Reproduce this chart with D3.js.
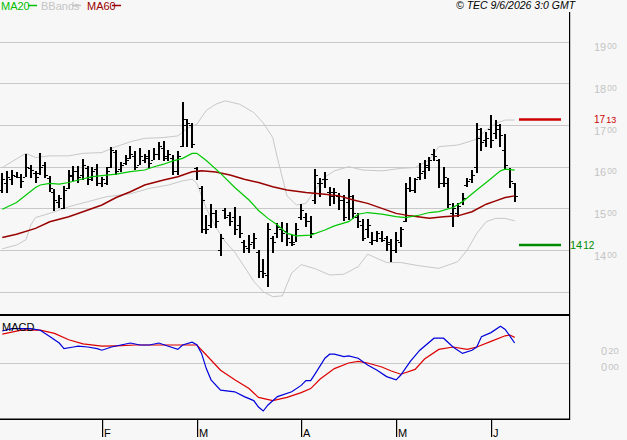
<!DOCTYPE html>
<html>
<head>
<meta charset="utf-8">
<script src="https://cdn.jsdelivr.net/npm/d3@7"></script>
<style>
  body { margin: 0; background: #f7f7f7; }
  svg { display: block; font-family: "Liberation Sans", Arial, sans-serif; }
</style>
</head>
<body>
<div id="chart"></div>
<script>
// OHLC, one entry per trading day (index 0 = first bar)
const opens  = [1545,1562,1570,1578,1575,1575,1598,1585,1585,1605,1572,1540,1515,1502,1550,1578,1590,1580,1598,1575,
                1595,1560,1562,1600,1635,1595,1610,1620,1625,1605,1615,1625,1615,1630,1645,1625,1620,1590,1650,1700,
                1700,1598,1550,1450,1460,1488,1400,1495,1485,1480,1460,1420,1405,1420,1395,1350,1340,1430,1440,1450,
                1445,1420,1420,1480,1480,1470,1520,1560,1570,1540,1530,1530,1520,1515,1500,1480,1460,1450,1420,1425,
                1430,1430,1415,1400,1420,1470,1550,1545,1575,1590,1600,1630,1615,1560,1560,1490,1490,1515,1555,1570,
                1600,1670,1665,1690,1680,1690,1640,1595,1560];
const highs  = [1584,1590,1593,1588,1582,1630,1604,1590,1632,1612,1578,1546,1532,1554,1591,1602,1601,1618,1602,1600,
                1606,1576,1600,1647,1640,1612,1628,1650,1638,1646,1630,1640,1644,1660,1662,1640,1628,1638,1756,1714,
                1704,1600,1554,1484,1510,1496,1438,1502,1492,1504,1482,1424,1436,1442,1400,1378,1464,1434,1464,1468,
                1464,1436,1464,1510,1488,1482,1594,1572,1588,1552,1548,1538,1532,1570,1532,1490,1474,1474,1444,1446,
                1446,1434,1426,1444,1456,1560,1576,1572,1608,1616,1624,1642,1618,1600,1572,1514,1514,1538,1572,1592,
                1706,1692,1684,1724,1712,1702,1678,1596,1562];
const lows   = [1536,1538,1556,1572,1550,1575,1574,1562,1580,1574,1540,1494,1500,1498,1546,1566,1560,1568,1556,1566,
                1554,1551,1556,1598,1580,1588,1604,1618,1592,1604,1608,1598,1616,1616,1614,1614,1580,1580,1648,1648,
                1646,1568,1442,1438,1454,1452,1386,1474,1458,1436,1430,1394,1394,1402,1334,1334,1312,1394,1428,1420,
                1410,1410,1420,1472,1456,1428,1510,1528,1548,1506,1510,1496,1470,1472,1474,1452,1422,1430,1412,1420,
                1420,1398,1372,1394,1408,1468,1540,1536,1568,1570,1590,1614,1548,1552,1502,1456,1480,1508,1552,1562,
                1586,1638,1648,1646,1666,1648,1594,1550,1516];
const closes = [1570,1575,1580,1576,1565,1600,1592,1575,1600,1580,1548,1520,1525,1545,1580,1590,1575,1605,1570,1590,
                1560,1570,1590,1640,1590,1605,1615,1630,1600,1625,1620,1610,1630,1650,1620,1630,1590,1625,1715,1705,
                1655,1590,1520,1450,1490,1470,1430,1480,1470,1450,1440,1410,1415,1430,1350,1345,1450,1420,1455,1440,
                1430,1415,1450,1495,1470,1440,1580,1560,1570,1540,1540,1520,1480,1530,1490,1470,1430,1460,1425,1440,
                1425,1420,1400,1425,1450,1550,1545,1570,1585,1605,1615,1625,1560,1575,1510,1500,1505,1525,1565,1580,
                1690,1660,1670,1665,1700,1675,1605,1565,1530];

// indicator lines: [bar index, value]
const ma20 = [[0,1498],[3,1514],[5,1532],[7,1550],[8,1556],[10,1560],[12,1558],[14,1562],[16,1568],[19,1576],
              [22,1580],[24,1582],[27,1588],[30,1592],[32,1600],[34,1606],[36,1614],[38,1620],[40,1632],[41,1632],
              [43,1615],[46,1584],[49,1550],[52,1520],[54,1495],[56,1476],[58,1460],[60,1440],[62,1434],[65,1436],
              [68,1448],[70,1458],[73,1468],[75,1486],[77,1490],[80,1486],[83,1480],[85,1478],[88,1484],[90,1490],
              [92,1492],[95,1502],[97,1516],[100,1544],[102,1562],[105,1590],[106,1594],[108,1592]];
const ma60 = [[0,1430],[3,1438],[7,1452],[10,1468],[14,1480],[17,1492],[21,1508],[24,1526],[27,1540],[30,1556],
              [34,1568],[37,1576],[40,1588],[42,1590],[45,1587],[48,1580],[51,1570],[54,1562],[57,1552],[60,1544],
              [64,1538],[68,1534],[71,1530],[74,1520],[77,1512],[80,1500],[83,1488],[86,1482],[90,1476],[93,1480],
              [96,1482],[99,1492],[102,1510],[104,1518],[106,1526],[108,1530]];
const bbUpper = [[0,1598],[2,1612],[5,1632],[7,1622],[10,1626],[14,1626],[17,1632],[21,1634],[23,1644],[27,1660],
                 [30,1668],[34,1670],[37,1674],[39,1692],[41,1702],[43,1735],[45,1750],[47,1758],[50,1750],[53,1730],
                 [55,1705],[57,1670],[58,1620],[60,1530],[62,1508],[64,1512],[66,1545],[68,1575],[70,1590],[73,1600],
                 [76,1592],[80,1590],[84,1596],[87,1598],[90,1616],[92,1648],[96,1652],[100,1666],[102,1688],[104,1704],
                 [106,1712],[108,1712]];
const bbLower = [[0,1403],[3,1412],[5,1425],[6,1460],[7,1478],[10,1488],[14,1504],[18,1516],[22,1528],[27,1535],
                 [31,1548],[35,1556],[38,1566],[40,1570],[41,1560],[43,1500],[45,1455],[47,1420],[49,1395],[51,1360],
                 [53,1325],[55,1300],[57,1288],[59,1290],[61,1345],[63,1365],[66,1355],[69,1340],[72,1342],[75,1360],
                 [77,1390],[79,1380],[81,1370],[84,1370],[88,1362],[92,1356],[96,1372],[98,1400],[100,1440],[102,1468],
                 [104,1476],[106,1476],[108,1470]];
const macd = [[0,0.40],[2,0.43],[6,0.43],[8,0.41],[10,0.33],[12,0.25],[13,0.18],[15,0.20],[16,0.21],[18,0.20],
              [20,0.18],[21,0.16],[23,0.20],[25,0.225],[27,0.25],[29,0.225],[31,0.225],[33,0.25],[35,0.21],[37,0.17],
              [38,0.225],[40,0.26],[41,0.23],[42,0.12],[43,-0.07],[44,-0.21],[46,-0.34],[49,-0.36],[51,-0.42],[53,-0.47],
              [54,-0.55],[55,-0.60],[56,-0.525],[58,-0.42],[61,-0.36],[63,-0.28],[64,-0.22],[65,-0.22],[66,-0.13],[68,0.06],
              [69,0.11],[70,0.11],[72,0.08],[73,0.09],[75,0.06],[77,-0.025],[79,-0.09],[81,-0.17],[83,-0.21],[84,-0.15],
              [86,0.02],[88,0.16],[91,0.31],[93,0.31],[95,0.20],[97,0.12],[99,0.16],[100,0.20],[101,0.33],[103,0.38],
              [105,0.46],[106,0.42],[108,0.25]];
const signal = [[0,0.36],[4,0.41],[8,0.41],[11,0.37],[14,0.29],[17,0.24],[21,0.21],[24,0.215],[28,0.225],[31,0.225],
                [35,0.225],[38,0.225],[41,0.225],[43,0.10],[46,-0.09],[49,-0.21],[52,-0.32],[54,-0.43],[57,-0.47],[60,-0.43],
                [63,-0.37],[65,-0.32],[67,-0.20],[70,-0.07],[73,0.00],[75,0.02],[77,0.00],[80,-0.05],[82,-0.10],[84,-0.14],
                [87,-0.08],[89,0.05],[92,0.17],[95,0.20],[98,0.17],[100,0.20],[103,0.27],[106,0.34],[107,0.35],[108,0.32]];

const priceGrid = [1300, 1400, 1500, 1600, 1700, 1800, 1900];
const priceLabels = [1400, 1500, 1600, 1700, 1800, 1900];
const macdLabels = [0.0, 0.2];
const monthTicks = [[21, "F"], [41, "M"], [63, "A"], [83, "M"], [103, "J"]];
const hiLevel = 1713, loLevel = 1412;

const W = 627, H = 440;
const plotRight = 569;

const svg = d3.select("#chart").append("svg").attr("width", W).attr("height", H);
svg.append("rect").attr("width", W).attr("height", H).attr("fill", "#f7f7f7");

const x = d3.scaleLinear().domain([0, 108]).range([2.3, 514.7]);
const y = d3.scaleLinear().domain([1300, 1900]).range([291.7, 41.7]);
const ym = d3.scaleLinear().domain([-0.6, 0.6]).range([411, 315]);

// price grid
svg.selectAll(".grid").data(priceGrid).enter().append("line")
  .attr("x1", 0).attr("x2", plotRight)
  .attr("y1", d => Math.round(y(d)) + 0.5).attr("y2", d => Math.round(y(d)) + 0.5)
  .attr("stroke", "#c8c8c8");

// price labels, last two digits raised and smaller
const lab = svg.selectAll(".plab").data(priceLabels).enter().append("text")
  .attr("x", 594).attr("y", d => y(d) + 9.5)
  .attr("fill", "#c4c4c4").attr("font-size", 11);
lab.append("tspan").text(d => String(d).slice(0, 2));
lab.append("tspan").attr("dx", 1).attr("dy", -2).attr("font-size", 8.5).text(d => String(d).slice(2));

const line = d3.line().x(d => x(d[0])).y(d => y(d[1]));

svg.append("path").datum(bbUpper).attr("d", line).attr("fill", "none").attr("stroke", "#c8c8c8");
svg.append("path").datum(bbLower).attr("d", line).attr("fill", "none").attr("stroke", "#c8c8c8");

// bars
const bars = d3.range(highs.length);
const g = svg.append("g").attr("shape-rendering", "crispEdges").attr("fill", "#000");
g.selectAll(".hl").data(bars).enter().append("rect")
  .attr("x", i => Math.round(x(i)) - 1).attr("width", 2)
  .attr("y", i => y(highs[i])).attr("height", i => y(lows[i]) - y(highs[i]));
g.selectAll(".op").data(bars).enter().append("rect")
  .attr("x", i => Math.round(x(i)) - 3).attr("width", 2)
  .attr("y", i => Math.round(y(opens[i]))).attr("height", 1);
g.selectAll(".cl").data(bars).enter().append("rect")
  .attr("x", i => Math.round(x(i)) + 1).attr("width", 2)
  .attr("y", i => Math.round(y(closes[i]))).attr("height", 1);

svg.append("path").datum(ma60).attr("d", line).attr("fill", "none").attr("stroke", "#990000").attr("stroke-width", 1.5);
svg.append("path").datum(ma20).attr("d", line).attr("fill", "none").attr("stroke", "#00c800").attr("stroke-width", 1.2);

// high / low markers
svg.append("line").attr("x1", 519).attr("x2", 561).attr("y1", y(hiLevel)).attr("y2", y(hiLevel))
  .attr("stroke", "#cc0000").attr("stroke-width", 2.5);
svg.append("line").attr("x1", 519).attr("x2", 561).attr("y1", y(loLevel)).attr("y2", y(loLevel))
  .attr("stroke", "#008c00").attr("stroke-width", 2.5);
const hiT = svg.append("text").attr("x", 594).attr("y", y(hiLevel) + 3).attr("fill", "#cc0000").attr("font-size", 10);
hiT.append("tspan").text(String(hiLevel).slice(0, 2));
hiT.append("tspan").attr("dx", 1).attr("font-size", 9).text(String(hiLevel).slice(2));
const loT = svg.append("text").attr("x", 570).attr("y", y(loLevel) + 4).attr("fill", "#008c00").attr("font-size", 11);
loT.append("tspan").text(String(loLevel).slice(0, 2));
loT.append("tspan").attr("dx", 1).attr("font-size", 10).text(String(loLevel).slice(2));

// MACD panel
svg.append("line").attr("x1", 0).attr("x2", plotRight).attr("y1", Math.round(ym(0)) + 0.5).attr("y2", Math.round(ym(0)) + 0.5)
  .attr("stroke", "#c8c8c8");
const mline = d3.line().x(d => x(d[0])).y(d => ym(d[1]));
svg.append("path").datum(signal).attr("d", mline).attr("fill", "none").attr("stroke", "#dd0000").attr("stroke-width", 1.2);
svg.append("path").datum(macd).attr("d", mline).attr("fill", "none").attr("stroke", "#0000dd").attr("stroke-width", 1.2);
svg.append("text").attr("x", 2).attr("y", 331).attr("font-size", 11).attr("fill", "#000").text("MACD");

const ml = svg.selectAll(".mlab").data(macdLabels).enter().append("text")
  .attr("x", 601).attr("y", d => ym(d) + 8)
  .attr("fill", "#c4c4c4").attr("font-size", 11);
ml.append("tspan").text("0");
ml.append("tspan").attr("dx", 1).attr("dy", -1).attr("font-size", 9.5).text(d => d.toFixed(2).slice(2));

// frame
svg.append("rect").attr("x", 0).attr("y", 314).attr("width", plotRight + 1).attr("height", 2).attr("fill", "#000");
svg.append("rect").attr("x", 0).attr("y", 418.5).attr("width", plotRight + 1).attr("height", 1.5).attr("fill", "#000");
svg.append("rect").attr("x", plotRight).attr("y", 12).attr("width", 1.2).attr("height", 408).attr("fill", "#000");

// month ticks
svg.selectAll(".mt").data(monthTicks).enter().append("rect")
  .attr("x", d => Math.round(x(d[0]))).attr("y", 419).attr("width", 1.2).attr("height", 18).attr("fill", "#000");
svg.selectAll(".mtl").data(monthTicks).enter().append("text")
  .attr("x", d => Math.round(x(d[0])) + 2).attr("y", 437).attr("font-size", 11).text(d => d[1]);

// legend
const legend = [["MA20", "#00c000", 1, 28], ["BBands", "#c4c4c4", 41, 72], ["MA60", "#990000", 87, 112]];
legend.forEach(([t, c, tx, lx]) => {
  svg.append("text").attr("x", tx).attr("y", 10).attr("font-size", 11).attr("fill", c).text(t);
  svg.append("line").attr("x1", lx).attr("x2", lx + 9).attr("y1", 5.5).attr("y2", 5.5).attr("stroke", c).attr("stroke-width", 1.5);
});
svg.append("text").attr("x", 456).attr("y", 9).attr("font-size", 10.5).attr("font-style", "italic")
  .text("© TEC 9/6/2026 3:0 GMT");
</script>
</body>
</html>
